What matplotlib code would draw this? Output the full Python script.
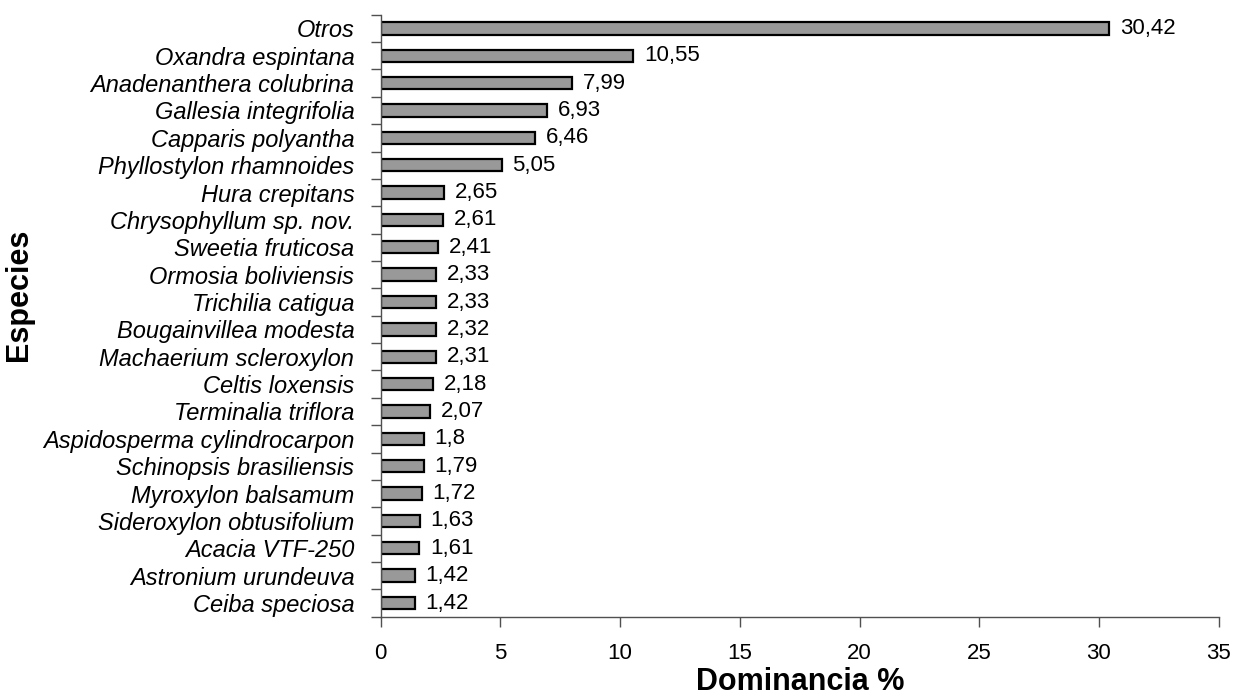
import matplotlib
matplotlib.use("Agg")
import matplotlib.pyplot as plt
import numpy as np

plt.rcParams['font.family'] = ['Liberation Sans', 'DejaVu Sans']

especies = ["Otros", "Oxandra espintana", "Anadenanthera colubrina",
            "Gallesia integrifolia", "Capparis polyantha",
            "Phyllostylon rhamnoides", "Hura crepitans",
            "Chrysophyllum sp. nov.", "Sweetia fruticosa",
            "Ormosia boliviensis", "Trichilia catigua",
            "Bougainvillea modesta", "Machaerium scleroxylon",
            "Celtis loxensis", "Terminalia triflora",
            "Aspidosperma cylindrocarpon", "Schinopsis brasiliensis",
            "Myroxylon balsamum", "Sideroxylon obtusifolium",
            "Acacia VTF-250", "Astronium urundeuva", "Ceiba speciosa"]
dominancia = [30.42, 10.55, 7.99, 6.93, 6.46, 5.05, 2.65, 2.61, 2.41,
              2.33, 2.33, 2.32, 2.31, 2.18, 2.07, 1.8, 1.79, 1.72,
              1.63, 1.61, 1.42, 1.42]

fig = plt.figure(figsize=(12.36, 7), dpi=100)
ax = fig.add_axes([0.308, 0.119, 0.678, 0.860])

y = np.arange(len(especies))[::-1]
ax.barh(y, dominancia, height=0.45, color='#999999', edgecolor='black',
        linewidth=1.6)

for yi, v in zip(y, dominancia):
    ax.text(v + 0.45, yi, str(v).replace('.', ','), va='center', ha='left',
            fontsize=16)

ax.set_xlim(0, 35)
ax.set_ylim(-0.5, len(especies) - 0.5)
ax.set_xticks(np.arange(0, 36, 5))
ax.set_yticks(y)
ax.set_yticklabels(especies, fontsize=17, style='italic')
# ticks sit between the categories
ax.set_yticks(np.arange(-0.5, len(especies), 1), minor=True)
ax.tick_params(axis='y', which='major', length=0, pad=19)
ax.tick_params(axis='y', which='minor', length=7, width=1, color='#505050')
ax.tick_params(axis='x', length=7, width=1, color='#505050', labelsize=16,
               pad=12)

for s in ['top', 'right']:
    ax.spines[s].set_visible(False)
for s in ['left', 'bottom']:
    ax.spines[s].set_color('#505050')
    ax.spines[s].set_linewidth(1)

ax.set_xlabel('Dominancia %', fontsize=22, fontweight='bold')
ax.xaxis.set_label_coords(0.5, -0.084)
ax.set_ylabel('Especies', fontsize=22, fontweight='bold')
ax.yaxis.set_label_coords(-0.414, 0.535)

fig.savefig('out.png', dpi=100)
